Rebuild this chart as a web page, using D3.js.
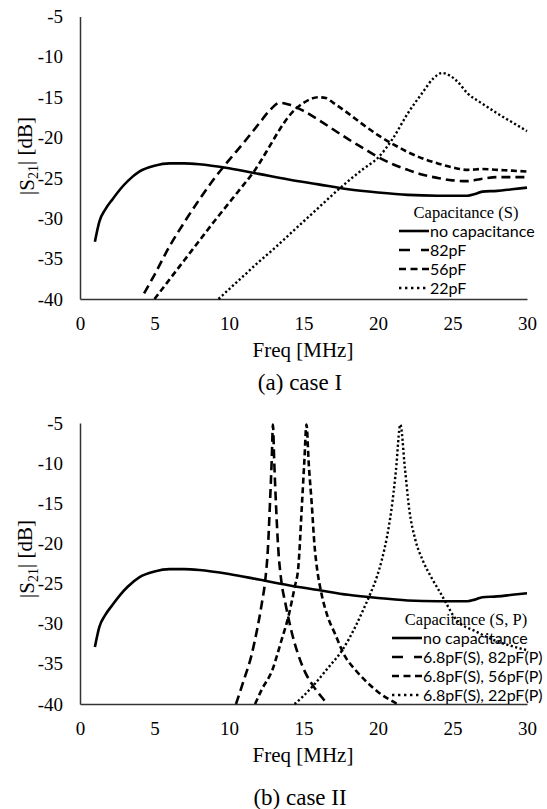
<!DOCTYPE html>
<html>
<head>
<meta charset="utf-8">
<script src="https://cdn.jsdelivr.net/npm/d3@7"></script>
<style>
  body { margin: 0; background: #fff; }
</style>
</head>
<body>
<div class="container"></div>
<script>
const serif = "'Liberation Serif', 'Times New Roman', serif";
const sans = "Lato, 'Liberation Sans', sans-serif";

// shared axis ticks
const xTicks = [0, 5, 10, 15, 20, 25, 30];
const yTicks = [-40, -35, -30, -25, -20, -15, -10, -5];

// no capacitance (same curve in both cases)
const noCapFreq = [1, 1.3, 1.7, 2.2, 2.7, 3.2, 4, 5, 6, 7, 8, 10, 12, 14, 16, 18, 20, 22, 24, 26, 26.5, 27, 28, 29, 30];
const noCapVal = [-32.9, -30.4, -28.9, -27.6, -26.4, -25.4, -24.2, -23.5, -23.2, -23.2, -23.3, -23.8, -24.5, -25.2, -25.8, -26.4, -26.8, -27.1, -27.2, -27.2, -27.0, -26.7, -26.6, -26.4, -26.2];

// case I : series capacitance
const c82Freq = [4.3, 5, 6, 7, 8, 9, 10, 11, 12, 12.7, 13.4, 14, 15, 16, 17, 18, 19, 20, 21, 22, 23, 24, 25, 26, 27, 28, 29, 30];
const c82Val = [-39.3, -37.0, -33.5, -30.5, -27.7, -25.1, -22.8, -20.6, -18.3, -16.7, -15.7, -15.9, -16.7, -17.8, -19.0, -20.2, -21.3, -22.4, -23.3, -24.0, -24.6, -25.0, -25.3, -25.4, -25.1, -24.9, -24.9, -24.9];

const c56Freq = [5.0, 6, 7, 8, 9, 10, 11, 11.6, 12, 12.75, 13.4, 14, 15, 16, 16.5, 17, 18, 19, 20, 21, 22, 23, 24, 25, 26, 27, 28, 29, 30];
const c56Val = [-40, -37.6, -35.2, -32.8, -30.4, -28.1, -25.8, -24.4, -23.3, -21.0, -19.0, -17.4, -15.7, -15.0, -15.1, -15.7, -17.0, -18.4, -19.7, -20.8, -21.8, -22.6, -23.2, -23.7, -24.0, -23.9, -24.0, -24.1, -24.2];

const c22Freq = [9.3, 10, 11, 12, 13, 14, 15, 16, 17, 18, 19, 20, 21, 22, 23, 23.7, 24.3, 24.8, 25.3, 26, 27, 28, 29, 30];
const c22Val = [-40, -38.8, -37.1, -35.4, -33.8, -32.1, -30.4, -28.7, -27.0, -25.4, -23.9, -22.5, -20.1, -17.0, -14.4, -12.7, -12.0, -12.3, -13.0, -14.5, -15.8, -17.0, -18.1, -19.2];

// case II : 6.8pF series + parallel capacitance
const p82Freq = [10.47, 11.0, 11.5, 11.9, 12.2, 12.45, 12.6, 12.75, 12.87, 12.95, 13.03, 13.15, 13.3, 13.5, 13.8, 14.2, 14.6, 15.1, 15.7, 16.2, 16.6];
const p82Val = [-40, -37.0, -34.0, -30.6, -27.5, -24.3, -21.0, -15.0, -9.5, -5.2, -9.5, -15.0, -20.5, -24.5, -27.6, -31.0, -33.6, -36.0, -37.9, -39.1, -40];

const p56Freq = [11.75, 12.2, 12.9, 13.5, 14.0, 14.4, 14.65, 14.9, 15.05, 15.2, 15.35, 15.55, 15.75, 15.9, 16.2, 16.6, 17.1, 17.8, 18.5, 19.1, 20.0, 21.3];
const p56Val = [-40, -38.2, -35.8, -32.2, -29.0, -25.5, -23.0, -15.0, -10.0, -5.2, -10.0, -15.0, -20.5, -23.0, -26.2, -29.0, -31.2, -34.1, -35.8, -37.0, -38.5, -40];

const p22Freq = [14.4, 15.0, 15.8, 16.6, 17.6, 18.5, 19.1, 19.5, 19.9, 20.25, 20.6, 20.9, 21.2, 21.5, 21.8, 22.1, 22.5, 23.0, 23.6, 24.2, 25.3, 26.5, 28.0, 29.0, 30.0];
const p22Val = [-40, -39.0, -37.4, -35.6, -33.3, -30.3, -27.9, -26.2, -24.3, -22.1, -19.2, -15.8, -11.0, -5.2, -10.5, -15.8, -19.5, -22.1, -24.3, -26.2, -29.6, -30.9, -32.2, -32.8, -33.3];

const legendI = ["no capacitance", "82pF", "56pF", "22pF"];
const legendII = ["no capacitance", "6.8pF(S), 82pF(P)", "6.8pF(S), 56pF(P)", "6.8pF(S), 22pF(P)"];

// line styles: solid, long dash, dash, dot
const styles = [
    { dash: null, legendDash: null, w: 2.6 },
    { dash: "9,5", legendDash: "11,11", w: 2.6 },
    { dash: "6,3.5", legendDash: "7,4.5", w: 2.6 },
    { dash: "2.2,2.4", legendDash: "2.4,3.6", w: 2.4 }
];

const svg = d3.select(".container")
    .append("svg")
    .attr("width", 547)
    .attr("height", 809);

function styleAxis(a) {
    a.select(".domain").attr("stroke", "#333").attr("stroke-width", 1.5);
    a.selectAll("text")
        .style("font-family", serif)
        .style("font-size", "19px")
        .attr("fill", "#000");
}

function drawChart(cfg) {
    const x = d3.scaleLinear().domain([0, 30]).range([80, 527]);
    const y = d3.scaleLinear().domain([-40, -5]).range([cfg.bottom, cfg.top]);

    const g = svg.append("g");

    // AXES (plain hyphen for negative labels, as in the original)
    g.append("g")
        .attr("transform", `translate(80, 0)`)
        .call(d3.axisLeft(y).tickValues(yTicks).tickFormat(d => String(d)).tickSize(0).tickSizeOuter(0).tickPadding(17))
        .call(styleAxis);

    g.append("g")
        .attr("transform", `translate(0, ${cfg.bottom})`)
        .call(d3.axisBottom(x).tickValues(xTicks).tickFormat(d => String(d)).tickSize(0).tickSizeOuter(0).tickPadding(18))
        .call(styleAxis);

    // LINES
    const line = d3.line()
        .x(d => x(d[0]))
        .y(d => y(d[1]))
        .curve(d3.curveMonotoneX);

    cfg.series.forEach((s, i) => {
        const pts = s.f.map((f, j) => [f, s.v[j]]);
        g.append("path")
            .datum(pts)
            .attr("d", line)
            .attr("fill", "none")
            .attr("stroke", "#000")
            .attr("stroke-width", styles[i].w)
            .attr("stroke-dasharray", styles[i].dash);
    });

    // AXIS TITLES
    g.append("text")
        .attr("x", 303)
        .attr("y", cfg.bottom + 58)
        .attr("text-anchor", "middle")
        .style("font-family", serif)
        .style("font-size", "21px")
        .text("Freq [MHz]");

    const yt = g.append("text")
        .attr("transform", `translate(34, ${cfg.yTitleY}) rotate(-90)`)
        .attr("text-anchor", "middle")
        .style("font-family", serif)
        .style("font-size", "21px");
    yt.append("tspan").text("|S");
    yt.append("tspan").attr("dy", "0.25em").style("font-size", "14px").text("21");
    yt.append("tspan").attr("dy", "-0.25em").text("| [dB]");

    // CAPTION
    g.append("text")
        .attr("x", 300)
        .attr("y", cfg.captionY)
        .attr("text-anchor", "middle")
        .style("font-family", serif)
        .style("font-size", "23px")
        .text(cfg.caption);

    // LEGEND
    const lg = g.append("g");
    lg.append("text")
        .attr("x", 466)
        .attr("y", cfg.legTitleY)
        .attr("dy", "0.35em")
        .attr("text-anchor", "middle")
        .style("font-family", serif)
        .style("font-size", "16.5px")
        .text(cfg.legTitle);

    cfg.labels.forEach((lab, i) => {
        const ly = cfg.legRowY + i * 19;
        lg.append("line")
            .attr("x1", cfg.legX)
            .attr("x2", cfg.legX + 30)
            .attr("y1", ly)
            .attr("y2", ly)
            .attr("stroke", "#000")
            .attr("stroke-width", styles[i].w)
            .attr("stroke-dasharray", styles[i].legendDash);
        lg.append("text")
            .attr("x", cfg.legX + 31)
            .attr("y", ly)
            .attr("dy", "0.35em")
            .style("font-family", sans)
            .style("font-size", "16px")
            .text(lab);
    });
}

drawChart({
    top: 16.5, bottom: 299,
    yTitleY: 156,
    captionY: 390,
    caption: "(a) case I",
    legTitle: "Capacitance (S)",
    legTitleY: 212, legRowY: 231, legX: 399,
    labels: legendI,
    series: [
        { f: noCapFreq, v: noCapVal },
        { f: c82Freq, v: c82Val },
        { f: c56Freq, v: c56Val },
        { f: c22Freq, v: c22Val }
    ]
});

drawChart({
    top: 423, bottom: 704,
    yTitleY: 559,
    captionY: 805,
    caption: "(b) case II",
    legTitle: "Capacitance (S, P)",
    legTitleY: 619, legRowY: 638, legX: 392,
    labels: legendII,
    series: [
        { f: noCapFreq, v: noCapVal },
        { f: p82Freq, v: p82Val },
        { f: p56Freq, v: p56Val },
        { f: p22Freq, v: p22Val }
    ]
});
</script>
</body>
</html>
